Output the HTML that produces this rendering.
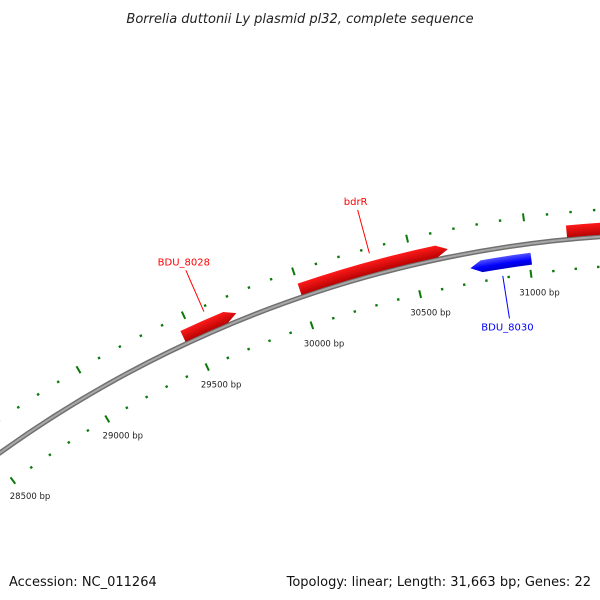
<!DOCTYPE html>
<html><head><meta charset="utf-8">
<style>
body{margin:0;background:#fff;}
svg{display:block;font-family:"DejaVu Sans","Liberation Sans",sans-serif;}
</style></head>
<body>
<svg id="map" width="600" height="600" viewBox="0 0 600 600" xmlns="http://www.w3.org/2000/svg">
<defs>
<radialGradient id="gRed" gradientUnits="userSpaceOnUse" cx="680" cy="1400" r="1192">
<stop offset="0.9787" stop-color="#b00000"/><stop offset="0.99" stop-color="#ff1a1a"/><stop offset="1" stop-color="#ff7070"/>
</radialGradient>
<radialGradient id="gBlue" gradientUnits="userSpaceOnUse" cx="680" cy="1400" r="1158">
<stop offset="0.9855" stop-color="#0000a0"/><stop offset="0.993" stop-color="#0000ff"/><stop offset="1" stop-color="#6060ff"/>
</radialGradient>
</defs>
<text x="300" y="23" text-anchor="middle" font-size="13" font-style="italic" fill="#222">Borrelia duttonii Ly plasmid pl32, complete sequence</text>
<g id="ticks"></g>
<g id="backbone"></g>
<g id="genes"></g>
<text x="9" y="586" font-size="13" fill="#111">Accession: NC_011264</text>
<text x="591" y="586" font-size="13" fill="#111" text-anchor="end">Topology: linear; Length: 31,663 bp; Genes: 22</text>
</svg>
<script>
const totalLength = 31663;
const tickStart = 28000;
const tickStep = 100;
const majorStep = 500;
const geneNames = ["BDU_8028","bdrR","BDU_8030","BDU_8031"];
const geneStarts = [29460,30000,30740,31175];
const geneEnds = [29710,30660,31010,31800];
const geneStrands = [1,1,-1,1];
const geneLabelShown = [true,true,true,false];

const NS="http://www.w3.org/2000/svg";
const CX=680, CY=1400, R=1166;
function ang(bp){return (bp-totalLength)/totalLength*2*Math.PI;}
function pt(bp,r){const a=ang(bp);return [CX+r*Math.sin(a),CY-r*Math.cos(a)];}
function mk(tag,attrs,parent){const e=document.createElementNS(NS,tag);for(const k in attrs)e.setAttribute(k,attrs[k]);parent.appendChild(e);return e;}

// backbone
const bb=document.getElementById('backbone');
const b0=pt(27500,R), b1=pt(31663,R);
const bd=`M${b0[0]},${b0[1]} A${R},${R} 0 0 1 ${b1[0]},${b1[1]}`;
const bo=mk('path',{d:bd,fill:'none',stroke:'#707070','stroke-width':5},bb);


const bi=mk('path',{d:bd,fill:'none',stroke:'#a8a8a8','stroke-width':2},bb);



// ticks
const tg=document.getElementById('ticks');
for(let bp=tickStart;bp<=totalLength;bp+=tickStep){
  const major=bp%majorStep===0;
  [1193,1136].forEach((rr,i)=>{
    const h=major?4:1.2;
    const p0=pt(bp,rr-h), p1=pt(bp,rr+h);
    const l=mk('line',{x1:p0[0],y1:p0[1],x2:p1[0],y2:p1[1],stroke:'#0a7a0a','stroke-width':major?2:2.4},tg);
    
    
  });
  if(major){
    const lp=pt(bp,1117);
    const t=mk('text',{x:lp[0]+6,y:lp[1]+3,'font-size':8.5,'text-anchor':'middle',fill:'#222'},tg);
    t.textContent=bp+' bp';
    
    
  }
}

// genes
const gg=document.getElementById('genes');
geneNames.forEach((name,i)=>{
  const fwd=geneStrands[i]>0;
  const r0=fwd?1168:1145, r1=fwd?1180:1157, rm=(r0+r1)/2;
  const head=fwd?1.2:-1.2; // arrow offset in bp-ish via length
  const s=geneStarts[i], e=geneEnds[i];
  const hb=50; // arrowhead length in bp
  let d;
  if(fwd){
    const a=pt(s,r0),b=pt(s,r1),c=pt(e-hb,r1),tip=pt(e,rm),f=pt(e-hb,r0);
    d=`M${a[0]},${a[1]} L${b[0]},${b[1]} A${r1},${r1} 0 0 1 ${c[0]},${c[1]} L${tip[0]},${tip[1]} L${f[0]},${f[1]} A${r0},${r0} 0 0 0 ${a[0]},${a[1]}Z`;
  } else {
    const tip=pt(s,rm),b=pt(s+hb,r1),c=pt(e,r1),f=pt(e,r0),a=pt(s+hb,r0);
    d=`M${tip[0]},${tip[1]} L${b[0]},${b[1]} A${r1},${r1} 0 0 1 ${c[0]},${c[1]} L${f[0]},${f[1]} A${r0},${r0} 0 0 0 ${a[0]},${a[1]}Z`;
  }
  const col=fwd?'#ff0000':'#0000ff';
  const p=mk('path',{d:d,fill:fwd?'url(#gRed)':'url(#gBlue)'},gg);
  
  
  if(geneLabelShown[i]){
    const mid=(s+e)/2;
    const q0=pt(mid,fwd?1188:1138), q1=pt(mid,fwd?1233:1095);
    const ln=mk('line',{x1:q0[0],y1:q0[1],x2:q1[0],y2:q1[1],stroke:col,'stroke-width':1},gg);
    
    
    const t=mk('text',{x:q1[0]-2,y:fwd?q1[1]-5:q1[1]+12,'font-size':10,'text-anchor':'middle',fill:col},gg);
    t.textContent=name;
    
    
  }
});
</script>
</body></html>
